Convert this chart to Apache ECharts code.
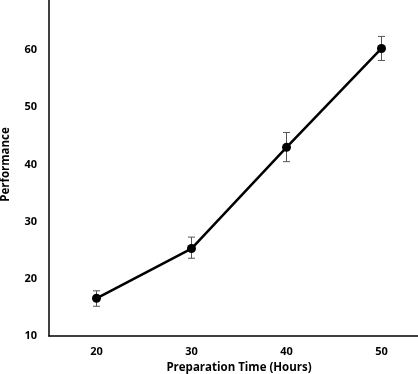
<!DOCTYPE html>
<html>
<head>
<meta charset="utf-8">
<script src="https://cdn.jsdelivr.net/npm/echarts@6/dist/echarts.min.js"></script>
<style>html,body{margin:0;padding:0;background:#fff;}#c{width:418px;height:374px;}</style>
</head>
<body>
<div id="c"></div>
<script>
var hours = [20, 30, 40, 50];
var performance = [16.6, 25.3, 43.0, 60.3];
var errLow = [15.2, 23.6, 40.5, 58.2];
var errHigh = [17.9, 27.3, 45.6, 62.4];
var xTicks = [20, 30, 40, 50];
var yTicks = [10, 20, 30, 40, 50, 60, 70];

var chart = echarts.init(document.getElementById('c'), null, {renderer: 'canvas'});
var font = 'Open Sans';
var lineData = hours.map(function (h, i) { return [h, performance[i]]; });
var errData = hours.map(function (h, i) { return [h, errLow[i], errHigh[i]]; });

chart.setOption({
  animation: false,
  grid: {left: 49, top: -7, width: 380, height: 343, containLabel: false, outerBoundsMode: 'none'},
  xAxis: {
    type: 'value', min: 15, max: 55, interval: 5,
    name: 'Preparation Time (Hours)', nameLocation: 'middle', nameGap: 26,
    nameTextStyle: {fontFamily: font, fontWeight: 'bold', fontSize: 11.5, color: '#000'},
    axisLine: {show: true, lineStyle: {color: '#000', width: 1.5}},
    axisTick: {show: false},
    splitLine: {show: false},
    axisLabel: {
      fontFamily: font, fontWeight: 'bold', fontSize: 11, color: '#000', margin: 10,
      formatter: function (v) { return xTicks.indexOf(v) >= 0 ? String(v) : ''; }
    }
  },
  yAxis: {
    type: 'value', min: 10, max: 70, interval: 10,
    name: 'Performance', nameLocation: 'middle', nameGap: 37,
    nameTextStyle: {fontFamily: font, fontWeight: 'bold', fontSize: 11.5, color: '#000'},
    axisLine: {show: true, lineStyle: {color: '#000', width: 1.5}},
    axisTick: {show: false},
    splitLine: {show: false},
    axisLabel: {
      fontFamily: font, fontWeight: 'bold', fontSize: 11, color: '#000', margin: 12,
      showMaxLabel: true, hideOverlap: false,
      formatter: function (v) { return yTicks.indexOf(v) >= 0 ? String(v) : ''; }
    }
  },
  series: [
    {
      type: 'line', data: lineData,
      lineStyle: {color: '#000', width: 2.5},
      itemStyle: {color: '#000'},
      symbol: 'circle', symbolSize: 9, z: 3
    },
    {
      type: 'custom', data: errData, z: 2,
      renderItem: function (params, api) {
        var x = api.value(0);
        var lo = api.coord([x, api.value(1)]);
        var hi = api.coord([x, api.value(2)]);
        var cap = 3.5;
        var st = {stroke: '#555', lineWidth: 1};
        return {
          type: 'group',
          children: [
            {type: 'line', shape: {x1: lo[0], y1: lo[1], x2: hi[0], y2: hi[1]}, style: st},
            {type: 'line', shape: {x1: lo[0] - cap, y1: lo[1], x2: lo[0] + cap, y2: lo[1]}, style: st},
            {type: 'line', shape: {x1: hi[0] - cap, y1: hi[1], x2: hi[0] + cap, y2: hi[1]}, style: st}
          ]
        };
      }
    }
  ]
});
</script>
</body>
</html>
